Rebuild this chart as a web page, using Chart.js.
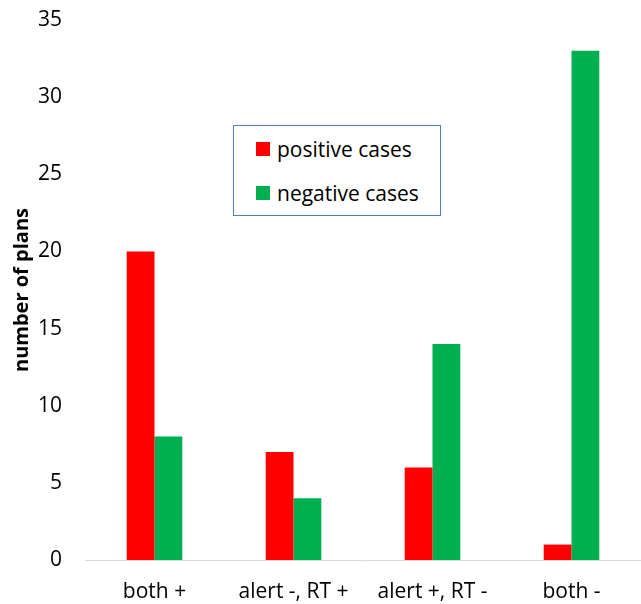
<!DOCTYPE html>
<html>
<head>
<meta charset="utf-8">
<script src="https://cdn.jsdelivr.net/npm/chart.js@4/dist/chart.umd.min.js"></script>
<style>
  html, body { margin: 0; padding: 0; background: #fff; }
  #wrap { position: relative; width: 641px; height: 604px; }
  #legend {
    position: absolute; left: 233px; top: 125px; width: 208px; height: 91px;
    border: 1px solid #4f81bd; background: #fff; box-sizing: border-box;
    font-family: "Open Sans", sans-serif; font-size: 21px; color: #000;
    padding: 10px 0 0 22px;
  }
  #legend .item { display: flex; align-items: center; height: 26px; line-height: 26px; margin-bottom: 18px; }
  #legend .sw { width: 14px; height: 14px; margin-right: 7px; flex: none; }
</style>
</head>
<body>
<div id="wrap">
  <canvas id="c" width="641" height="604"></canvas>
  <div id="legend"></div>
</div>
<script>
const categories = ["both +", "alert -, RT +", "alert +, RT -", "both -"];
const positiveCases = [20, 7, 6, 1];
const negativeCases = [8, 4, 14, 33];
const yTicks = [0, 5, 10, 15, 20, 25, 30, 35];

const seriesNames = ["positive cases", "negative cases"];
const seriesColors = ["#ff0000", "#00b050"];
const FONT = '"Open Sans", sans-serif';

const datasets = [positiveCases, negativeCases].map((vals, i) => ({
  label: seriesNames[i],
  data: vals,
  backgroundColor: seriesColors[i],
  borderWidth: 0,
  categoryPercentage: 0.4,
  barPercentage: 1.0
}));

new Chart(document.getElementById('c'), {
  type: 'bar',
  data: { labels: categories, datasets },
  options: {
    responsive: false,
    animation: false,
    layout: { padding: { top: 20, right: 0, bottom: 0, left: 10 } },
    plugins: { legend: { display: false }, tooltip: { enabled: false } },
    scales: {
      x: {
        grid: { display: false, drawTicks: false },
        border: { display: true, color: '#d9d9d9', width: 1 },
        ticks: { color: '#000', font: { family: FONT, size: 21 }, padding: 19, maxRotation: 0 },
        afterFit: s => { s.height = 44; s.paddingLeft = 0; s.paddingRight = 0; }
      },
      y: {
        min: 0, max: 35,
        grid: { display: false, drawTicks: false },
        border: { display: false },
        afterBuildTicks: s => { s.ticks = yTicks.map(v => ({ value: v })); },
        ticks: { color: '#000', font: { family: FONT, size: 21 }, padding: 23 },
        title: {
          display: true, text: 'number of plans', color: '#000',
          font: { family: FONT, size: 20, weight: 'bold' }, padding: { top: 0, bottom: 4 }
        },
        afterFit: s => { s.width = 75; s.paddingTop = 0; s.paddingBottom = 0; }
      }
    }
  }
});

// HTML legend built from the series
const lg = document.getElementById('legend');
seriesNames.forEach((name, i) => {
  const d = document.createElement('div');
  d.className = 'item';
  d.innerHTML = '<span class="sw" style="background:' + seriesColors[i] + '"></span><span>' + name + '</span>';
  lg.appendChild(d);
});
</script>
</body>
</html>
